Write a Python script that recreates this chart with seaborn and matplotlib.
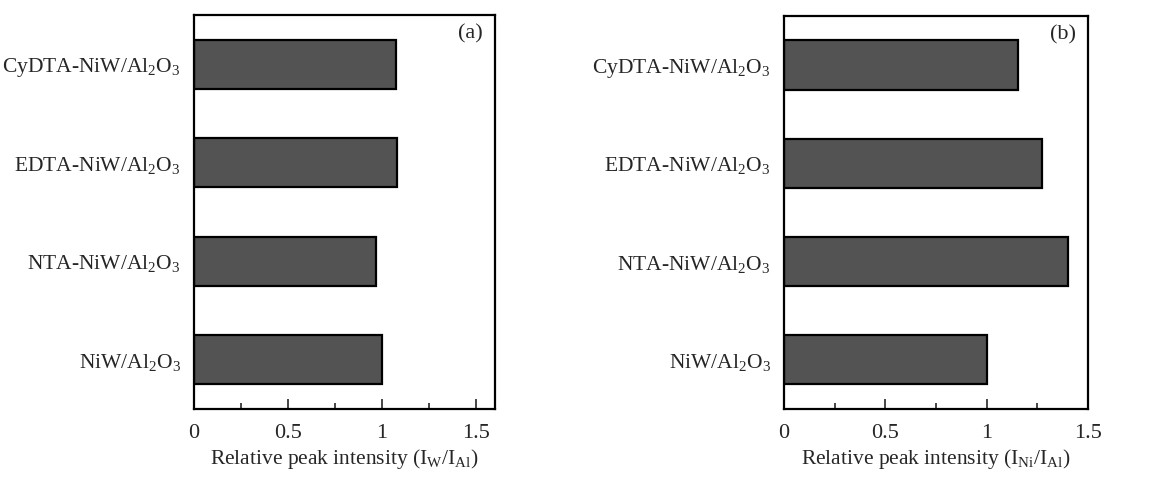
import matplotlib
matplotlib.use("Agg")
import matplotlib.pyplot as plt
import seaborn as sns
import pandas as pd
from matplotlib.ticker import MultipleLocator

samples = [r"CyDTA-NiW/Al$_2$O$_3$", r"EDTA-NiW/Al$_2$O$_3$",
           r"NTA-NiW/Al$_2$O$_3$", r"NiW/Al$_2$O$_3$"]
w_ratio = [1.075, 1.077, 0.97, 1.0]     # I_W / I_Al
ni_ratio = [1.156, 1.272, 1.40, 1.0]    # I_Ni / I_Al

sns.set_style("white")
plt.rcParams["font.family"] = ["Liberation Serif", "DejaVu Serif"]
plt.rcParams["mathtext.fontset"] = "custom"
plt.rcParams["mathtext.rm"] = "Liberation Serif"
plt.rcParams["mathtext.it"] = "Liberation Serif:italic"
plt.rcParams["mathtext.bf"] = "Liberation Serif:bold"

fig = plt.figure(figsize=(11.73, 4.8), dpi=100)
ax_a = fig.add_axes([0.1654, 0.148, 0.2566, 0.821])
ax_b = fig.add_axes([0.6684, 0.148, 0.2592, 0.819])

panels = [
    (ax_a, w_ratio, r"Relative peak intensity (I$_\mathrm{W}$/I$_\mathrm{Al}$)", "(a)", 1.6),
    (ax_b, ni_ratio, r"Relative peak intensity (I$_\mathrm{Ni}$/I$_\mathrm{Al}$)", "(b)", 1.5),
]

for ax, vals, xlab, tag, xmax in panels:
    df = pd.DataFrame({"sample": samples, "value": vals})
    sns.barplot(data=df, x="value", y="sample", orient="h", color="#535353",
                width=0.5, edgecolor="black", linewidth=1.6, saturation=1, ax=ax)
    ax.set_xlim(0, xmax)
    ax.set_ylim(3.5, -0.5)
    ax.xaxis.set_major_locator(MultipleLocator(0.5))
    ax.xaxis.set_minor_locator(MultipleLocator(0.25))
    ax.xaxis.set_major_formatter(plt.FuncFormatter(lambda v, p: f"{v:g}"))
    ax.tick_params(axis="x", which="major", direction="in", length=7, width=1.2,
                   labelsize=16, pad=11, bottom=True, top=False)
    ax.tick_params(axis="x", which="minor", direction="in", length=4, width=1.2,
                   bottom=True, top=False)
    ax.tick_params(axis="y", left=False, labelsize=15.5, pad=6)
    ax.set_xlabel(xlab, fontsize=15.5, labelpad=3)
    ax.set_ylabel("")
    for s in ax.spines.values():
        s.set_visible(True)
        s.set_linewidth(1.6)
        s.set_color("black")
    ax.text(0.96, 0.975, tag, transform=ax.transAxes, ha="right", va="top", fontsize=16)

fig.savefig("out.png", dpi=100)
